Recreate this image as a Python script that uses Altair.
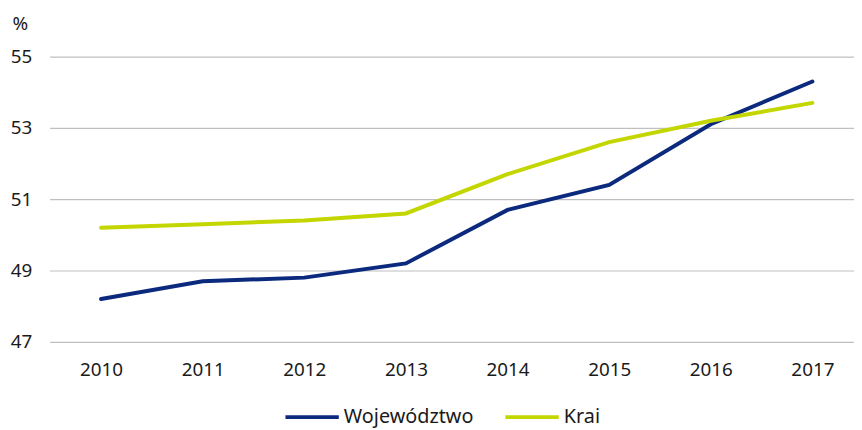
import altair as alt
import pandas as pd

years = ["2010", "2011", "2012", "2013", "2014", "2015", "2016", "2017"]
wojewodztwo = [48.2, 48.7, 48.8, 49.2, 50.7, 51.4, 53.1, 54.3]
krai = [50.2, 50.3, 50.4, 50.6, 51.7, 52.6, 53.2, 53.7]
series_names = ["Województwo", "Krai"]
series_colors = ["#0b2a7e", "#c4d600"]
y_ticks = [47, 49, 51, 53, 55]

rows = []
for name, vals in zip(series_names, [wojewodztwo, krai]):
    for yr, v in zip(years, vals):
        rows.append({"year": yr, "value": v, "series": name})
df = pd.DataFrame(rows)

FONT = "Noto Sans"

chart = alt.Chart(df).mark_line(strokeWidth=4, strokeCap="round").encode(
    x=alt.X("year:O", sort=years,
            scale=alt.Scale(type="point", padding=0.458, align=0.553),
            axis=alt.Axis(title=None, labelAngle=0, domain=False, ticks=False,
                          labelPadding=19, labelFontSize=19, labelFont=FONT,
                          labelColor="#1a1a1a", grid=False)),
    y=alt.Y("value:Q", scale=alt.Scale(domain=[47, 55], nice=False, zero=False),
            axis=alt.Axis(values=y_ticks, title="%", titleAngle=0, titleX=-30, titleY=-33,
                          titleAlign="center", titleBaseline="middle",
                          titleFontSize=19, titleFontWeight="normal", titleFont=FONT,
                          titleColor="#1a1a1a",
                          domain=False, ticks=False, labelPadding=18,
                          labelFontSize=19, labelFont=FONT, labelColor="#1a1a1a",
                          gridColor="#bfbfbf", gridWidth=1.2)),
    color=alt.Color("series:N", sort=series_names,
                    scale=alt.Scale(domain=series_names, range=series_colors),
                    legend=alt.Legend(title=None, orient="none", direction="horizontal",
                                      legendX=236, legendY=335,
                                      symbolType="stroke", symbolSize=2900,
                                      symbolStrokeWidth=4, labelFontSize=20,
                                      labelFont=FONT, labelColor="#1a1a1a",
                                      labelOffset=3, columnPadding=24, padding=0)),
).properties(
    width=812, height=288,
    padding={"left": 42, "top": 47, "right": 0, "bottom": 87},
    autosize=alt.AutoSizeParams(type="none"),
).configure_view(stroke=None)

chart.save("out.html", embed_options={"renderer": "svg", "actions": False})
